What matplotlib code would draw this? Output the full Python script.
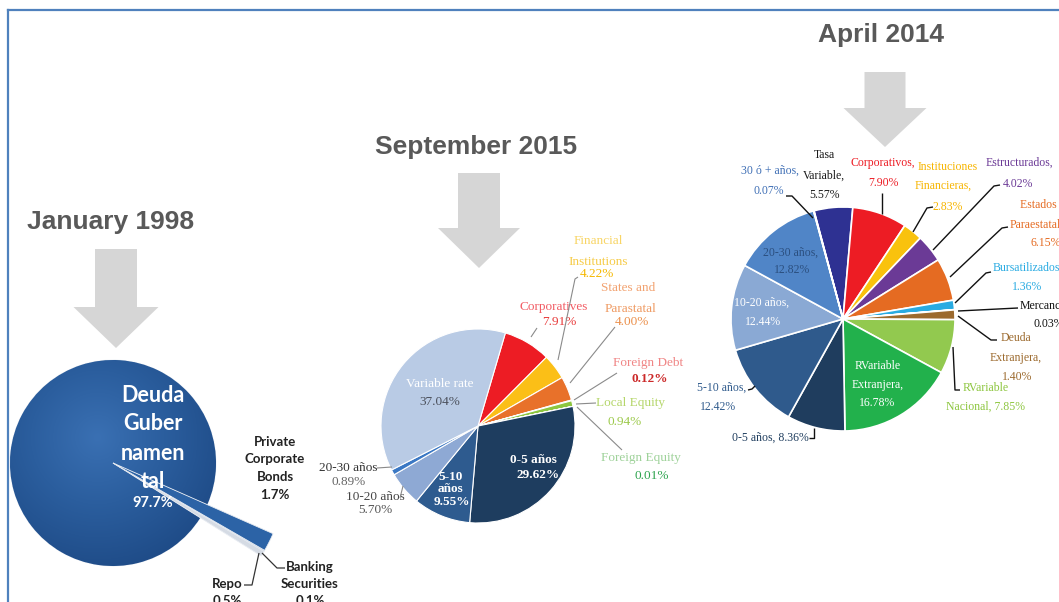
import matplotlib
matplotlib.use("Agg")
import matplotlib.pyplot as plt
from matplotlib.patches import Polygon
from matplotlib.colors import LinearSegmentedColormap
import numpy as np

W, H = 1059, 602

# ---------------- data ----------------
jan1998_labels = ["Repo", "Banking Securities", "Private Corporate Bonds", "Deuda Gubernamental"]
jan1998_values = [0.5, 0.1, 1.7, 97.7]
jan1998_colors = ["#d5dbe4", "#8fa8c8", "#2c63a6", "#2a5d9c"]

sep2015_labels = ["Corporatives", "Financial Institutions", "States and Parastatal",
                  "Foreign Debt", "Local Equity", "Foreign Equity", "0-5 años",
                  "5-10 años", "10-20 años", "20-30 años", "Variable rate"]
sep2015_values = [7.91, 4.22, 4.00, 0.12, 0.94, 0.01, 29.62, 9.55, 5.70, 0.89, 37.04]
sep2015_colors = ["#ed1c24", "#fbbf17", "#e8712a", "#c00000", "#8dc63f", "#3aaa35",
                  "#1e3d5f", "#2e5b8f", "#8ea9d4", "#3b78c4", "#b9cbe5"]

apr2014_labels = ["Tasa Variable", "Corporativos", "Instituciones Financieras",
                  "Estructurados", "Estados y Paraestatales", "Bursatilizados",
                  "Mercancías", "Deuda Extranjera", "RVariable Nacional",
                  "RVariable Extranjera", "0-5 años", "5-10 años", "10-20 años",
                  "20-30 años", "30 ó + años"]
apr2014_values = [5.57, 7.90, 2.83, 4.02, 6.15, 1.36, 0.03, 1.40, 7.85, 16.78,
                  8.36, 12.42, 12.44, 12.82, 0.07]
apr2014_colors = ["#2e3192", "#ed1c24", "#f9c20d", "#6b3a96", "#e56b22", "#29abe2",
                  "#404040", "#9c6a2e", "#92c94f", "#22b14c", "#1f3d5e", "#2f5a8c",
                  "#8aa9d4", "#5085c7", "#3d6cb0"]

titles = ["January 1998", "September 2015", "April 2014"]

# ---------------- figure ----------------
fig = plt.figure(figsize=(W / 100, H / 100), dpi=100)
ax = fig.add_axes([0, 0, 1, 1])

def T(x, y, s, **kw):
    ha = kw.pop("ha", "center")
    ax.text(x, H - y, s, ha=ha, va="center", **kw)

def L(pts, color="black", lw=1.0):
    ax.plot([p[0] for p in pts], [H - p[1] for p in pts], color=color, lw=lw,
            solid_capstyle="butt", zorder=5)

def arrow(cx, top, sw, hs, hw, tip):
    pts = [(cx - sw / 2, top), (cx + sw / 2, top), (cx + sw / 2, hs), (cx + hw / 2, hs),
           (cx, tip), (cx - hw / 2, hs), (cx - sw / 2, hs)]
    ax.add_patch(Polygon([(x, H - y) for x, y in pts], closed=True,
                         facecolor="#d6d6d6", edgecolor="none", zorder=1))

# border
ax.plot([8, 8], [0, H - 10], color="#4f81bd", lw=1.6)
ax.plot([8, W], [H - 10, H - 10], color="#4f81bd", lw=1.6)

# titles + arrows
tfont = dict(family="Liberation Sans", weight="bold", fontsize=19, color="#595959")
T(111, 222, titles[0], **tfont)
T(476, 147, titles[1], **tfont)
T(881, 35, titles[2], **tfont)
arrow(116, 249, 42, 307, 85, 348)
arrow(479, 173, 42, 228, 82, 268)
arrow(885, 72, 41, 108, 83, 147)

# ---------------- pie 1: January 1998 ----------------
c1x, c1y, r1 = 113, 463, 103
w1, _ = ax.pie(jan1998_values, colors=jan1998_colors, startangle=-32.1,
               counterclock=True, radius=r1, center=(c1x, H - c1y),
               wedgeprops=dict(edgecolor="#e8ecf2", linewidth=0.6))
for w in w1[:3]:
    w.set_radius(175)
    w.set_zorder(3)
# soft shading on the main slice
gx, gy = np.meshgrid(np.linspace(-1, 1, 220), np.linspace(-1, 1, 220))
d = np.sqrt((gx + 0.15) ** 2 + (gy + 0.25) ** 2)
shade_cmap = LinearSegmentedColormap.from_list("sh", ["#3a70b3", "#2b5e9e", "#1f4c88"])
im = ax.imshow(d, cmap=shade_cmap, vmin=0, vmax=1.3, origin="upper",
               extent=[c1x - r1, c1x + r1, H - c1y - r1, H - c1y + r1], zorder=2,
               interpolation="bilinear")
im.set_clip_path(w1[3])

f1 = dict(family="Lato", weight="bold", color="white", zorder=6)
for s, y in zip(["Deuda", "Guber", "namen", "tal"], [396, 423, 453, 482]):
    T(153, y, s, fontsize=15.5, **f1)
T(153, 503, "97.7%", fontsize=10.5, **f1)
f1o = dict(family="Lato", weight="bold", color="#222222", fontsize=9.5)
for s, y in zip(["Private", "Corporate", "Bonds", "1.7%"], [442, 459, 477, 495]):
    T(275, y, s, **f1o)
T(227, 584, "Repo", **f1o)
T(227, 601, "0.5%", **f1o)
T(310, 567, "Banking", **f1o)
T(310, 584, "Securities", **f1o)
T(310, 601, "0.1%", **f1o)
L([(244, 585), (252, 585), (259, 553)], color="#333333", lw=0.9)
L([(285, 568), (277, 568), (262, 553)], color="#333333", lw=0.9)

# ---------------- pie 2: September 2015 ----------------
ax.pie(sep2015_values, colors=sep2015_colors, startangle=73.6, counterclock=False,
       radius=97, center=(478, H - 426),
       wedgeprops=dict(edgecolor="white", linewidth=0.8))

f2 = dict(family="Liberation Serif", fontsize=9.5)
T(598, 241, "Financial", color="#f8d565", **f2)
T(598, 262, "Institutions", color="#f6cc4a", **f2)
T(597, 274, "4.22%", color="#f5b800", **f2)
T(628, 288, "States and", color="#f2a270", **f2)
T(630, 309, "Parastatal", color="#ef9a62", **f2)
T(632, 322, "4.00%", color="#eb8f4a", **f2)
T(554, 307, "Corporatives", color="#f25c64", **f2)
T(559, 322, "7.91%", color="#e83a3a", **f2)
T(648, 363, "Foreign Debt", color="#f08585", **f2)
T(650, 379, "0.12%", color="#cc2a2a", weight="bold", **f2)
T(630, 403, "Local Equity", color="#b5d66a", **f2)
T(625, 422, "0.94%", color="#9cc94a", **f2)
T(641, 458, "Foreign Equity", color="#9fd29a", **f2)
T(652, 476, "0.01%", color="#2ea44f", **f2)
T(440, 384, "Variable rate", color="white", **f2)
T(440, 402, "37.04%", color="#4a4f5a", **f2)
T(533, 460, "0-5 años", color="white", weight="bold", **f2)
T(538, 475, "29.62%", color="white", weight="bold", **f2)
T(451, 477, "5-10", color="white", weight="bold", **f2)
T(451, 489, "años", color="white", weight="bold", **f2)
T(452, 502, "9.55%", color="white", weight="bold", **f2)
T(348, 468, "20-30 años", color="#333333", **f2)
T(349, 482, "0.89%", color="#666666", **f2)
T(375, 497, "10-20 años", color="#444444", **f2)
T(375, 510, "5.70%", color="#555555", **f2)
g = "#8a8a8a"
L([(578, 277), (575, 279), (558, 360)], color=g, lw=0.8)
L([(615, 327), (570, 383)], color=g, lw=0.8)
L([(617, 373), (574, 400)], color=g, lw=0.8)
L([(596, 403), (576, 404)], color=g, lw=0.8)
L([(622, 450), (577, 407)], color=g, lw=0.8)
L([(537, 328), (531, 337)], color=g, lw=0.8)
L([(377, 468), (392, 467)], color=g, lw=0.8)
L([(400, 498), (403, 486)], color=g, lw=0.8)

# ---------------- pie 3: April 2014 ----------------
ax.pie(apr2014_values, colors=apr2014_colors, startangle=105.0, counterclock=False,
       radius=112, center=(843, H - 319),
       wedgeprops=dict(edgecolor="white", linewidth=1.2))

f3 = dict(family="Liberation Serif", fontsize=8.5)
T(770, 171, "30 ó + años,", color="#3f6fb5", **f3)
T(769, 191, "0.07%", color="#3f6fb5", **f3)
T(824, 155, "Tasa", color="#1a1a1a", **f3)
T(824, 176, "Variable,", color="#1a1a1a", **f3)
T(825, 195, "5.57%", color="#1a1a1a", **f3)
T(883, 163, "Corporativos,", color="#ed1c24", **f3)
T(883, 183, "7.90%", color="#ed1c24", **f3)
T(948, 167, "Instituciones", color="#f7b500", **f3)
T(943, 186, "Financieras,", color="#f7b500", **f3)
T(948, 207, "2.83%", color="#f7b500", **f3)
T(1019, 163, "Estructurados,", color="#6b3a96", **f3)
T(1018, 184, "4.02%", color="#6b3a96", **f3)
T(1020, 205, "Estados y", color="#e56b22", ha="left", **f3)
T(1010, 225, "Paraestatales", color="#e56b22", ha="left", **f3)
T(1046, 243, "6.15%", color="#e56b22", **f3)
T(993, 268, "Bursatilizados", color="#29abe2", ha="left", **f3)
T(1027, 287, "1.36%", color="#29abe2", **f3)
T(1020, 306, "Mercancías,", color="#111111", ha="left", **f3)
T(1033, 324, "0.03%", color="#111111", ha="left", **f3)
T(1016, 338, "Deuda", color="#9c6a2e", **f3)
T(1016, 358, "Extranjera,", color="#9c6a2e", **f3)
T(1017, 377, "1.40%", color="#9c6a2e", **f3)
T(986, 388, "RVariable", color="#8dc63f", **f3)
T(985, 407, "Nacional, 7.85%", color="#8dc63f", **f3)
T(878, 366, "RVariable", color="white", **f3)
T(878, 385, "Extranjera,", color="white", **f3)
T(877, 403, "16.78%", color="white", **f3)
T(791, 253, "20-30 años,", color="#2b4f7f", **f3)
T(792, 270, "12.82%", color="#2b4f7f", **f3)
T(762, 303, "10-20 años,", color="white", **f3)
T(763, 322, "12.44%", color="white", **f3)
T(722, 388, "5-10 años,", color="#2f5a8c", **f3)
T(718, 407, "12.42%", color="#2f5a8c", **f3)
T(770, 438, "0-5 años, 8.36%", color="#1f3d5e", **f3)
k = "#111111"
L([(786, 196), (792, 196), (813, 218)], color=k)
L([(882, 193), (882, 214)], color=k)
L([(933, 207), (927, 208), (913, 232)], color=k)
L([(1000, 185), (994, 186), (933, 250)], color=k)
L([(1008, 227), (1002, 228), (950, 277)], color=k)
L([(991, 272), (986, 273), (955, 303)], color=k)
L([(1018, 308), (958, 311)], color=k)
L([(997, 340), (991, 340), (958, 316)], color=k)
L([(960, 390), (955, 390), (953, 347)], color=k)
L([(748, 390), (752, 389), (755, 386)], color=k)
L([(809, 438), (814, 438), (814, 428)], color=k)

ax.set_xlim(0, W)
ax.set_ylim(0, H)
ax.set_aspect("equal")
ax.axis("off")
fig.savefig("out.png", dpi=100)
